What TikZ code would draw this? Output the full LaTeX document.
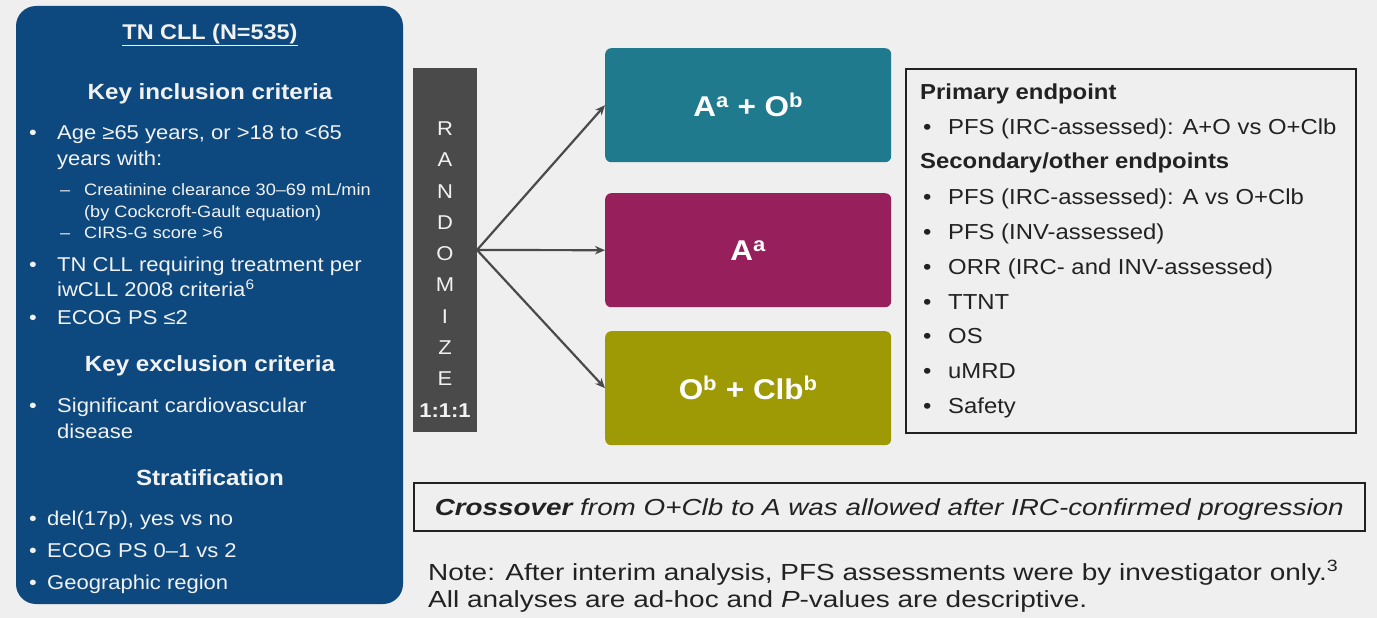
\documentclass[tikz,border=0pt]{standalone}
\usepackage{fontspec}
\setmainfont{Liberation Sans}[FakeStretch=1.1]
\newfontfamily\widefont[FakeStretch=1.2]{Liberation Sans}
\usetikzlibrary{arrows.meta}

\definecolor{pagebg}{HTML}{EFEFEF}
\definecolor{navy}{HTML}{0D497E}
\definecolor{randgray}{HTML}{4A4A4A}
\definecolor{armteal}{HTML}{1F7A8D}
\definecolor{armplum}{HTML}{961F5C}
\definecolor{armolive}{HTML}{9E9A06}
\definecolor{ink}{HTML}{222222}
\definecolor{soft}{HTML}{F2F2F2}

\tikzset{
  txt/.style={inner sep=0pt, anchor=mid west, yshift=-5pt, text=soft, font=\fontsize{20}{23}\selectfont},
  sub/.style={txt, yshift=1pt, font=\fontsize{16.5}{19}\selectfont},
  head/.style={inner sep=0pt, anchor=mid, yshift=-5pt, text=soft, font=\bfseries\fontsize{22}{26}\selectfont},
  ept/.style={inner sep=0pt, anchor=mid west, yshift=-5pt, text=ink, font=\fontsize{21.7}{25}\selectfont},
  eptbold/.style={ept, font=\bfseries\fontsize{21.7}{25}\selectfont},
  armbox/.style={rounded corners=6pt, minimum width=286pt, minimum height=114pt, inner sep=0pt,
                 text=white, font=\bfseries\fontsize{28.6}{32}\selectfont},
  flow/.style={draw=randgray, line width=2.2pt, -{Stealth[length=10pt,width=8.5pt]}},
  note/.style={inner sep=0pt, text=ink, font=\widefont\fontsize{23.3}{27}\selectfont},
}

\begin{document}
\begin{tikzpicture}[x=1pt, y=-1pt]
  \useasboundingbox (0,0) rectangle (1377,618);
  \fill[pagebg] (0,0) rectangle (1377,618);

  % Population panel
  \fill[navy, rounded corners=20pt] (16,6) rectangle (403,604);
  \node[head, font=\bfseries\fontsize{21.3}{25}\selectfont] (title) at (210,32) {\underline{TN CLL (N=535)}};
  \node[head] (inc) at (210,92) {Key inclusion criteria};
  \node[txt] (b1) at (29,132) {•};
  \node[txt] (i1) at (57,132) {Age ≥65 years, or >18 to <65};
  \node[txt] (i1b) at (57,158) {years with:};
  \node[sub] (d1) at (60,189) {–};
  \node[sub] (s1) at (84,189) {Creatinine clearance 30–69 mL/min};
  \node[sub] (s1b) at (84,211) {(by Cockcroft-Gault equation)};
  \node[sub] (d2) at (60,232) {–};
  \node[sub] (s2) at (84,232) {CIRS-G score >6};
  \node[txt] (b2) at (29,264) {•};
  \node[txt] (i2) at (57,264) {TN CLL requiring treatment per};
  \node[txt] (i2b) at (57,289) {iwCLL 2008 criteria\textsuperscript{6}};
  \node[txt] (b3) at (29,317) {•};
  \node[txt] (i3) at (57,317) {ECOG PS ≤2};
  \node[head] (exc) at (210,364) {Key exclusion criteria};
  \node[txt] (b4) at (29,405) {•};
  \node[txt] (e1) at (57,405) {Significant cardiovascular};
  \node[txt] (e1b) at (57,431) {disease};
  \node[head] (strat) at (210,478) {Stratification};
  \node[txt] (b5) at (29,518) {•};
  \node[txt] (t1) at (47,518) {del(17p), yes vs no};
  \node[txt] (b6) at (29,550) {•};
  \node[txt] (t2) at (47,550) {ECOG PS 0–1 vs 2};
  \node[txt] (b7) at (29,582) {•};
  \node[txt] (t3) at (47,582) {Geographic region};

  % Randomization bar
  \node[fill=randgray, minimum width=64pt, minimum height=364pt, inner sep=0pt, anchor=north west]
    (rand) at (413,68) {};
  \node[inner sep=0pt, align=center, text=soft, anchor=north,
        font=\fontsize{20}{31.3}\selectfont] (randtxt) at (445,121.5)
    {R\\A\\N\\D\\O\\M\\I\\Z\\E\\\textbf{1:1:1}};

  % Treatment arms
  \node[armbox, fill=armteal, anchor=north west] (armAO) at (605,48) {A\textsuperscript{a} + O\textsuperscript{b}};
  \node[armbox, fill=armplum, anchor=north west] (armA) at (605,193) {A\textsuperscript{a}};
  \node[armbox, fill=armolive, anchor=north west] (armOC) at (605,331) {O\textsuperscript{b} + Clb\textsuperscript{b}};

  \coordinate (fork) at (477,250);
  \draw[flow] (fork) -- (armAO.west);
  \draw[flow] (fork) -- (armA.west);
  \draw[flow] (fork) -- (armOC.west);

  % Endpoints
  \node[draw=ink, line width=2pt, minimum width=450pt, minimum height=364pt, inner sep=0pt, anchor=north west]
    (endp) at (905,68) {};
  \node[eptbold] (p0) at (920,92) {Primary endpoint};
  \node[ept] (pb1) at (923,127) {•};
  \node[ept] (p1) at (948,127) {PFS (IRC-assessed): A+O vs O+Clb};
  \node[eptbold] (s0) at (920,161) {Secondary/other endpoints};
  \node[ept] (sb1) at (923,197) {•};
  \node[ept] (q1) at (948,197) {PFS (IRC-assessed): A vs O+Clb};
  \node[ept] (sb2) at (923,232) {•};
  \node[ept] (q2) at (948,232) {PFS (INV-assessed)};
  \node[ept] (sb3) at (923,267) {•};
  \node[ept] (q3) at (948,267) {ORR (IRC- and INV-assessed)};
  \node[ept] (sb4) at (923,302) {•};
  \node[ept] (q4) at (948,302) {TTNT};
  \node[ept] (sb5) at (923,336) {•};
  \node[ept] (q5) at (948,336) {OS};
  \node[ept] (sb6) at (923,371) {•};
  \node[ept] (q6) at (948,371) {uMRD};
  \node[ept] (sb7) at (923,406) {•};
  \node[ept] (q7) at (948,406) {Safety};

  % Crossover and notes
  \node[draw=ink, line width=1.6pt, minimum width=951pt, minimum height=48pt, inner sep=0pt, anchor=north west]
    (cross) at (413,482) {};
  \node[note, yshift=-3pt, font=\widefont\itshape\fontsize{23.2}{27}\selectfont] (crosstxt) at (cross.center)
    {\textbf{Crossover} from O+Clb to A was allowed after IRC-confirmed progression};
  \node[note, anchor=mid west, yshift=-5pt] (note1) at (428,573)
    {Note: After interim analysis, PFS assessments were by investigator only.\textsuperscript{3}};
  \node[note, anchor=mid west, yshift=-5pt] (note2) at (428,600)
    {All analyses are ad-hoc and \textit{P}-values are descriptive.};
\end{tikzpicture}
\end{document}
